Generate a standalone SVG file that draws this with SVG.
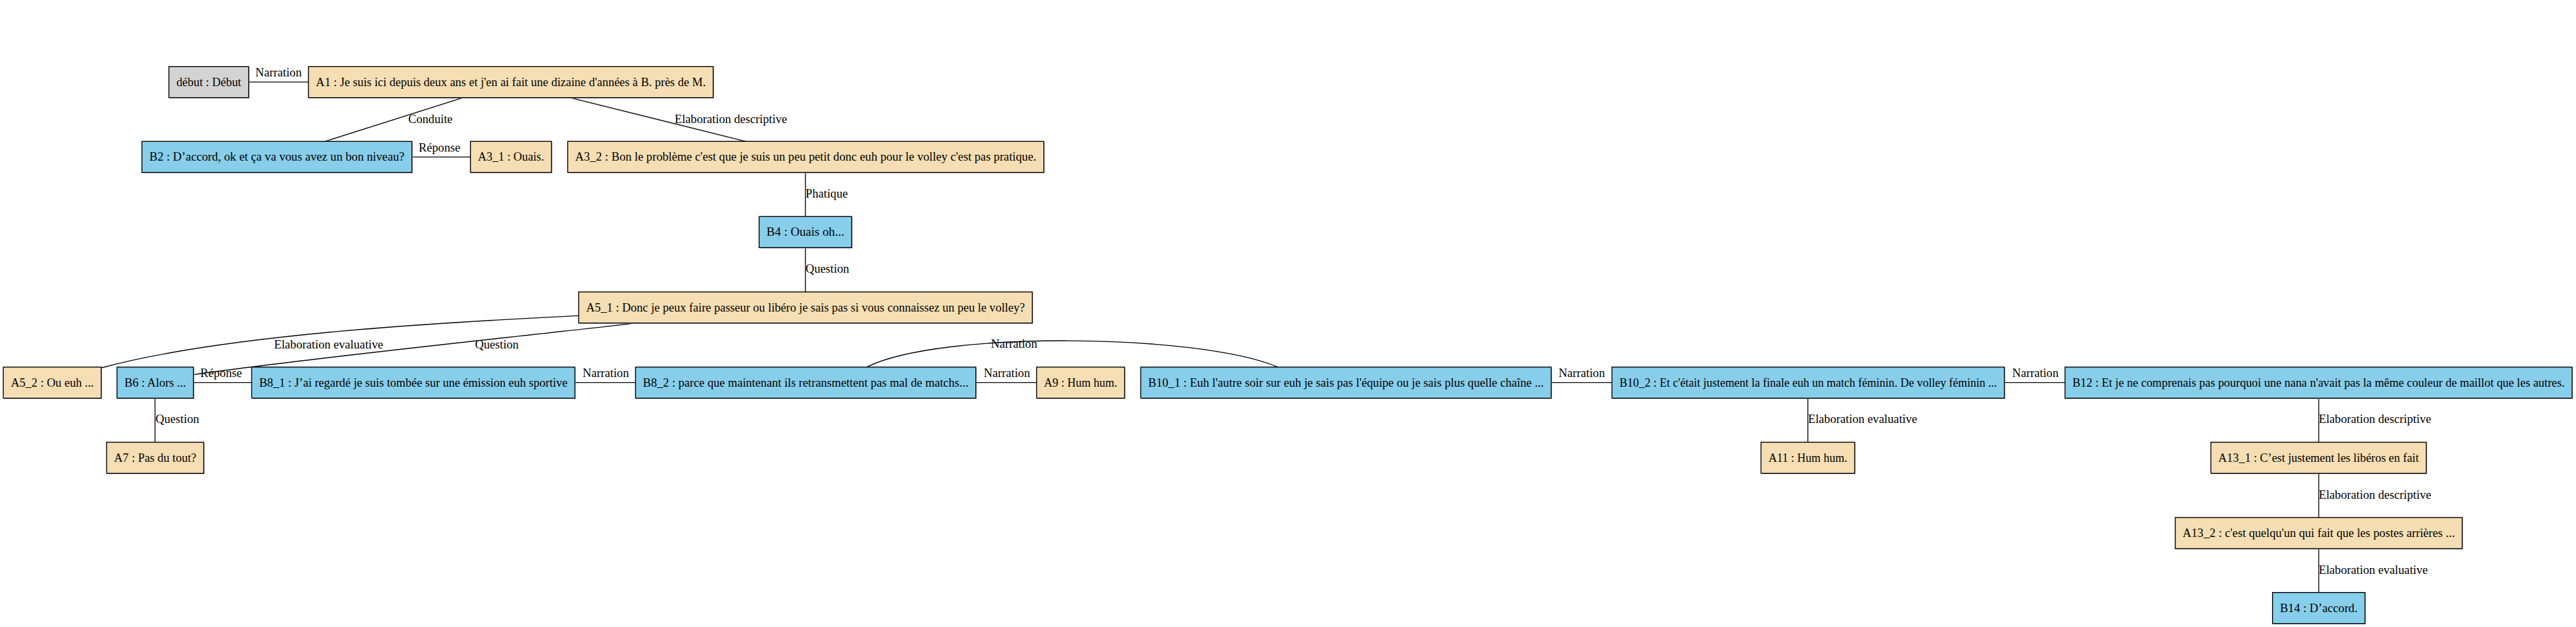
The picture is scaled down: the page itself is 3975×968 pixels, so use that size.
<svg xmlns="http://www.w3.org/2000/svg" width="3975" height="968" viewBox="0 0 3975 968">
<style>
  .bg { fill: #ffffff; }
  .box { stroke: #000000; stroke-width: 1.4; }
  .sh { fill: #b4b4b4; stroke: none; }
  .a { fill: #f5deb3; }
  .b { fill: #87ceeb; }
  .g { fill: #d3d3d3; }
  .t { font-family: "Liberation Serif", "Times New Roman", serif; font-size: 18.67px; fill: #000000; }
  .nt { text-anchor: middle; }
  .e { fill: none; stroke: #000000; stroke-width: 1.33; }
</style>
<rect class="bg" x="0" y="0" width="3975" height="968"/>

<g id="connectors">
  <line class="e" x1="383.7" y1="126.7" x2="476" y2="126.7"/>
  <text class="t" x="394" y="117.5">Narration</text>
  <line class="e" x1="715" y1="150.7" x2="501.7" y2="218.3"/>
  <text class="t" x="630" y="189.5">Conduite</text>
  <line class="e" x1="879" y1="150.7" x2="1151" y2="218.3"/>
  <text class="t" x="1041" y="189.5">Elaboration descriptive</text>
  <line class="e" x1="635.6" y1="242.3" x2="726" y2="242.3"/>
  <text class="t" x="646" y="233.5">Réponse</text>
  <line class="e" x1="1242.8" y1="266.3" x2="1242.8" y2="334.3"/>
  <text class="t" x="1243" y="304.5">Phatique</text>
  <line class="e" x1="1242.8" y1="382.3" x2="1242.8" y2="450.7"/>
  <text class="t" x="1243" y="420.7">Question</text>
  <path class="e" d="M893,487.3 C700,497 350,515 156.2,568"/>
  <text class="t" x="423" y="537.7">Elaboration evaluative</text>
  <path class="e" d="M985,498.3 C800,520 500,550 298.5,578.3"/>
  <text class="t" x="733" y="537.7">Question</text>
  <line class="e" x1="239.2" y1="614.5" x2="239.2" y2="682.7"/>
  <text class="t" x="240" y="653.3">Question</text>
  <line class="e" x1="298.5" y1="590.7" x2="388.4" y2="590.7"/>
  <text class="t" x="309" y="581.7">Réponse</text>
  <line class="e" x1="887.1" y1="590.7" x2="980.6" y2="590.7"/>
  <text class="t" x="899" y="581.7">Narration</text>
  <line class="e" x1="1505.8" y1="590.7" x2="1599.6" y2="590.7"/>
  <text class="t" x="1518" y="581.7">Narration</text>
  <path class="e" d="M1337.5,566.7 C1450,510 1850,515 1971.7,566.7"/>
  <text class="t" x="1529" y="536.7">Narration</text>
  <line class="e" x1="2393.6" y1="590.7" x2="2487.4" y2="590.7"/>
  <text class="t" x="2405" y="581.7">Narration</text>
  <line class="e" x1="3093" y1="590.7" x2="3186.5" y2="590.7"/>
  <text class="t" x="3105" y="581.7">Narration</text>
  <line class="e" x1="2789.7" y1="614.5" x2="2789.7" y2="682.7"/>
  <text class="t" x="2790" y="653.3">Elaboration evaluative</text>
  <line class="e" x1="3578" y1="614.5" x2="3578" y2="682.7"/>
  <text class="t" x="3578" y="653.3">Elaboration descriptive</text>
  <line class="e" x1="3578" y1="730.7" x2="3578" y2="799"/>
  <text class="t" x="3578" y="769.5">Elaboration descriptive</text>
  <line class="e" x1="3578" y1="847" x2="3578" y2="914.7"/>
  <text class="t" x="3578" y="886">Elaboration evaluative</text>
</g>

<g id="debut">
  <rect class="sh" x="261.8" y="103.9" width="123.1" height="48"/>
  <rect class="box g" x="260.6" y="102.7" width="123.1" height="48"/>
  <text class="t nt" x="322.2" y="132.7" textLength="100.1" lengthAdjust="spacingAndGlyphs">début : Début</text>
</g>
<g id="A1">
  <rect class="sh" x="477.2" y="103.9" width="624.5" height="48"/>
  <rect class="box a" x="476" y="102.7" width="624.5" height="48"/>
  <text class="t nt" x="788.3" y="132.7" textLength="601.5" lengthAdjust="spacingAndGlyphs">A1 : Je suis ici depuis deux ans et j'en ai fait une dizaine d'années à B. près de M.</text>
</g>
<g id="B2">
  <rect class="sh" x="220.2" y="219.5" width="416.6" height="48"/>
  <rect class="box b" x="219" y="218.3" width="416.6" height="48"/>
  <text class="t nt" x="427.3" y="248.3" textLength="393.6" lengthAdjust="spacingAndGlyphs">B2 : D’accord, ok et ça va vous avez un bon niveau?</text>
</g>
<g id="A3_1">
  <rect class="sh" x="727.2" y="219.5" width="125" height="48"/>
  <rect class="box a" x="726" y="218.3" width="125" height="48"/>
  <text class="t nt" x="788.5" y="248.3" textLength="102" lengthAdjust="spacingAndGlyphs">A3_1 : Ouais.</text>
</g>
<g id="A3_2">
  <rect class="sh" x="877.2" y="219.5" width="734.7" height="48"/>
  <rect class="box a" x="876" y="218.3" width="734.7" height="48"/>
  <text class="t nt" x="1243.3" y="248.3" textLength="711.7" lengthAdjust="spacingAndGlyphs">A3_2 : Bon le problème c'est que je suis un peu petit donc euh pour le volley c'est pas pratique.</text>
</g>
<g id="B4">
  <rect class="sh" x="1172.6" y="335.5" width="142.9" height="48"/>
  <rect class="box b" x="1171.4" y="334.3" width="142.9" height="48"/>
  <text class="t nt" x="1242.8" y="364.3" textLength="119.9" lengthAdjust="spacingAndGlyphs">B4 : Ouais oh...</text>
</g>
<g id="A5_1">
  <rect class="sh" x="894.1" y="451.9" width="700" height="48"/>
  <rect class="box a" x="892.9" y="450.7" width="700" height="48"/>
  <text class="t nt" x="1242.9" y="480.7" textLength="677" lengthAdjust="spacingAndGlyphs">A5_1 : Donc je peux faire passeur ou libéro je sais pas si vous connaissez un peu le volley?</text>
</g>
<g id="A5_2">
  <rect class="sh" x="6.3" y="567.9" width="151.1" height="48"/>
  <rect class="box a" x="5.1" y="566.7" width="151.1" height="48"/>
  <text class="t nt" x="80.7" y="596.7" textLength="128.1" lengthAdjust="spacingAndGlyphs">A5_2 : Ou euh ...</text>
</g>
<g id="B6">
  <rect class="sh" x="181.7" y="567.9" width="118" height="48"/>
  <rect class="box b" x="180.5" y="566.7" width="118" height="48"/>
  <text class="t nt" x="239.5" y="596.7" textLength="95" lengthAdjust="spacingAndGlyphs">B6 : Alors ...</text>
</g>
<g id="B8_1">
  <rect class="sh" x="389.6" y="567.9" width="498.7" height="48"/>
  <rect class="box b" x="388.4" y="566.7" width="498.7" height="48"/>
  <text class="t nt" x="637.8" y="596.7" textLength="475.7" lengthAdjust="spacingAndGlyphs">B8_1 : J’ai regardé je suis tombée sur une émission euh sportive</text>
</g>
<g id="B8_2">
  <rect class="sh" x="981.8" y="567.9" width="525.2" height="48"/>
  <rect class="box b" x="980.6" y="566.7" width="525.2" height="48"/>
  <text class="t nt" x="1243.2" y="596.7" textLength="502.2" lengthAdjust="spacingAndGlyphs">B8_2 : parce que maintenant ils retransmettent pas mal de matchs...</text>
</g>
<g id="A9">
  <rect class="sh" x="1600.8" y="567.9" width="135.8" height="48"/>
  <rect class="box a" x="1599.6" y="566.7" width="135.8" height="48"/>
  <text class="t nt" x="1667.5" y="596.7" textLength="112.8" lengthAdjust="spacingAndGlyphs">A9 : Hum hum.</text>
</g>
<g id="B10_1">
  <rect class="sh" x="1761.5" y="567.9" width="633.3" height="48"/>
  <rect class="box b" x="1760.3" y="566.7" width="633.3" height="48"/>
  <text class="t nt" x="2077" y="596.7" textLength="610.3" lengthAdjust="spacingAndGlyphs">B10_1 : Euh l'autre soir sur euh je sais pas l'équipe ou je sais plus quelle chaîne ...</text>
</g>
<g id="B10_2">
  <rect class="sh" x="2488.6" y="567.9" width="605.6" height="48"/>
  <rect class="box b" x="2487.4" y="566.7" width="605.6" height="48"/>
  <text class="t nt" x="2790.2" y="596.7" textLength="582.6" lengthAdjust="spacingAndGlyphs">B10_2 : Et c'était justement la finale euh un match féminin. De volley féminin ...</text>
</g>
<g id="B12">
  <rect class="sh" x="3187.7" y="567.9" width="782.5" height="48"/>
  <rect class="box b" x="3186.5" y="566.7" width="782.5" height="48"/>
  <text class="t nt" x="3577.8" y="596.7" textLength="759.5" lengthAdjust="spacingAndGlyphs">B12 : Et je ne comprenais pas pourquoi une nana n'avait pas la même couleur de maillot que les autres.</text>
</g>
<g id="A7">
  <rect class="sh" x="165.7" y="683.9" width="149.9" height="48"/>
  <rect class="box a" x="164.5" y="682.7" width="149.9" height="48"/>
  <text class="t nt" x="239.5" y="712.7" textLength="126.9" lengthAdjust="spacingAndGlyphs">A7 : Pas du tout?</text>
</g>
<g id="A11">
  <rect class="sh" x="2718.6" y="683.9" width="144.6" height="48"/>
  <rect class="box a" x="2717.4" y="682.7" width="144.6" height="48"/>
  <text class="t nt" x="2789.7" y="712.7" textLength="121.6" lengthAdjust="spacingAndGlyphs">A11 : Hum hum.</text>
</g>
<g id="A13_1">
  <rect class="sh" x="3412.8" y="683.9" width="332.4" height="48"/>
  <rect class="box a" x="3411.6" y="682.7" width="332.4" height="48"/>
  <text class="t nt" x="3577.8" y="712.7" textLength="309.4" lengthAdjust="spacingAndGlyphs">A13_1 : C’est justement les libéros en fait</text>
</g>
<g id="A13_2">
  <rect class="sh" x="3357.8" y="800.2" width="442.8" height="48"/>
  <rect class="box a" x="3356.6" y="799" width="442.8" height="48"/>
  <text class="t nt" x="3578" y="829" textLength="419.8" lengthAdjust="spacingAndGlyphs">A13_2 : c'est quelqu'un qui fait que les postes arrières ...</text>
</g>
<g id="B14">
  <rect class="sh" x="3507.9" y="915.9" width="142.7" height="48"/>
  <rect class="box b" x="3506.7" y="914.7" width="142.7" height="48"/>
  <text class="t nt" x="3578" y="944.7" textLength="119.7" lengthAdjust="spacingAndGlyphs">B14 : D’accord.</text>
</g>
</svg>
